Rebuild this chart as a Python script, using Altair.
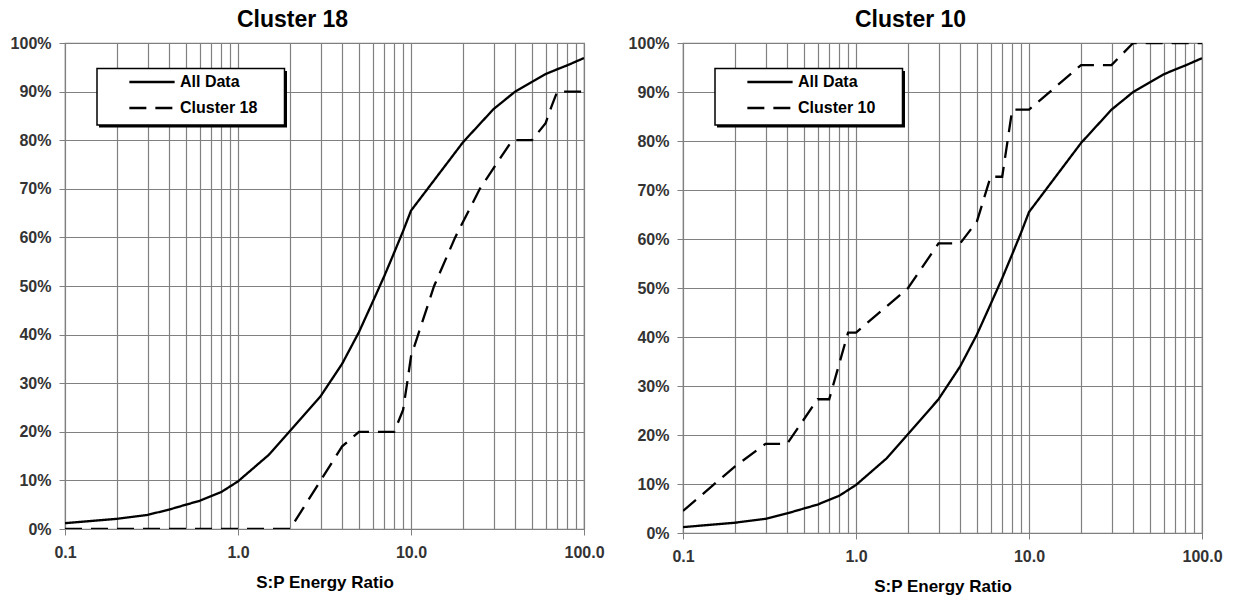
import altair as alt
import pandas as pd

# S:P energy ratio (x) and cumulative percentage (y, %)
all_x = [0.1, 0.2, 0.3, 0.4, 0.5, 0.6, 0.8, 1.0, 1.5, 2.0, 3.0, 4.0, 5.0, 6.0, 7.0, 8.0, 9.0,
         10.0, 20.0, 30.0, 40.0, 50.0, 60.0, 70.0, 80.0, 90.0, 100.0]
all_y = [1.2, 2.1, 2.9, 4.0, 5.0, 5.8, 7.6, 9.8, 15.2, 20.2, 27.3, 34.0, 40.5, 46.7, 52.0, 56.9, 61.3,
         65.5, 79.6, 86.4, 90.0, 92.0, 93.6, 94.6, 95.4, 96.2, 96.9]

c18_x = [0.1, 2.0, 4.0, 5.0, 8.0, 9.0, 9.5, 10.0, 11.0, 13.6, 18.0, 25.0, 38.5, 50.0, 60.0, 65.0, 70.0, 100.0]
c18_y = [0.0, 0.0, 17.0, 20.0, 20.0, 24.5, 30.0, 35.5, 40.0, 50.0, 60.0, 70.0, 80.0, 80.0, 83.5, 87.0, 90.0, 90.0]

c10_x = [0.1, 0.2, 0.3, 0.4, 0.6, 0.7, 0.9, 1.0, 2.0, 3.0, 4.0, 5.0, 6.0, 7.0, 8.0, 10.0, 20.0, 30.0, 40.0, 100.0]
c10_y = [4.5, 13.6, 18.2, 18.2, 27.3, 27.3, 40.9, 40.9, 50.0, 59.1, 59.1, 63.6, 72.7, 72.7, 86.4, 86.4, 95.5, 95.5, 100.0, 100.0]

x_grid = [0.1, 0.2, 0.3, 0.4, 0.5, 0.6, 0.7, 0.8, 0.9,
          1, 2, 3, 4, 5, 6, 7, 8, 9,
          10, 20, 30, 40, 50, 60, 70, 80, 90, 100]
y_ticks = [0, 0.1, 0.2, 0.3, 0.4, 0.5, 0.6, 0.7, 0.8, 0.9, 1.0]

FONT = "Liberation Sans"
GRID = "#808080"
DECADE = "abs(log(datum.value)/LN10 - round(log(datum.value)/LN10)) < 0.001"

box_df = pd.DataFrame({"k": [0]})


def panel(title, cname, cx, cy, h):
    df = pd.DataFrame({
        "ratio": all_x + cx,
        "pct": [v / 100 for v in all_y + cy],
        "series": ["All Data"] * len(all_x) + [cname] * len(cx),
        "ord": list(range(len(all_x))) + list(range(len(cx))),
    })
    lines = alt.Chart(df).mark_line(color="black", strokeWidth=2.3, clip=True).encode(
        x=alt.X("ratio:Q", scale=alt.Scale(type="log", domain=[0.1, 100], nice=False),
                axis=alt.Axis(values=x_grid, labelExpr=f"{DECADE} ? format(datum.value, '.1f') : ''",
                              title="S:P Energy Ratio", titleFontSize=17, titleFont=FONT,
                              titleFontWeight="bold", titleColor="black", titlePadding=14,
                              labelFont=FONT, labelFontSize=16, labelFontWeight="bold",
                              labelColor="#333333", labelPadding=9, labelFlush=False,
                              labelOverlap=False, labelBound=False,
                              tickSize=6, tickColor=GRID,
                              tickOpacity={"condition": {"test": DECADE, "value": 1}, "value": 0},
                              grid=True, gridColor=GRID, gridWidth=1.2, domainColor=GRID)),
        y=alt.Y("pct:Q", scale=alt.Scale(domain=[0, 1], nice=False),
                axis=alt.Axis(values=y_ticks, format=".0%", title=None,
                              labelFont=FONT, labelFontSize=16, labelFontWeight="bold",
                              labelColor="#333333", labelPadding=8,
                              tickSize=6, tickColor=GRID,
                              grid=True, gridColor=GRID, gridWidth=1.2, domainColor=GRID)),
        strokeDash=alt.StrokeDash("series:N",
                                  scale=alt.Scale(domain=["All Data", cname], range=[[1, 0], [17, 9]]),
                                  legend=alt.Legend(title=None, orient="none", legendX=31, legendY=22,
                                                    padding=9, symbolType="stroke", symbolSize=2050,
                                                    symbolStrokeColor="black", symbolStrokeWidth=2.3,
                                                    symbolOffset=23, clipHeight=16, rowPadding=10,
                                                    labelFont=FONT, labelFontSize=16, labelFontWeight="bold",
                                                    labelColor="black")),
        order="ord:Q",
    )
    shadow = alt.Chart(box_df).mark_rect(color="black").encode(
        x=alt.value(34), x2=alt.value(222), y=alt.value(28), y2=alt.value(84.5))
    box = alt.Chart(box_df).mark_rect(fill="white", stroke="black", strokeWidth=1.5).encode(
        x=alt.value(32), x2=alt.value(219.5), y=alt.value(25.5), y2=alt.value(82))
    return alt.layer(lines, shadow, box, title=alt.TitleParams(
        title, fontSize=23, font=FONT, fontWeight="bold", color="black",
        offset=3, dx=-32)).properties(width=519, height=h)


left = panel("Cluster 18", "Cluster 18", c18_x, c18_y, 486)
right = panel("Cluster 10", "Cluster 10", c10_x, c10_y, 490)

chart = alt.hconcat(left, right, spacing=22).resolve_scale(strokeDash="independent").configure_view(
    stroke=GRID, strokeWidth=1.2).properties(
    padding={"left": 9, "top": 8, "right": 5, "bottom": 5})

chart.save("out.html", embed_options={"renderer": "svg", "actions": False})
